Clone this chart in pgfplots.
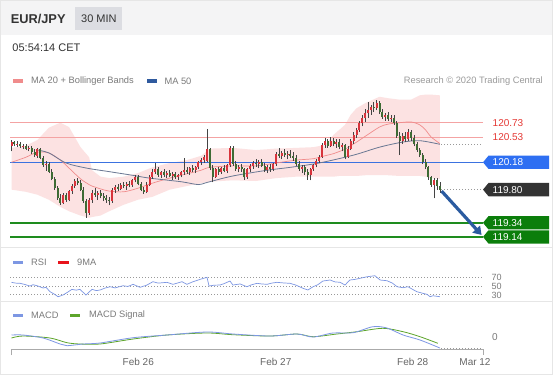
\documentclass[border=0pt]{standalone}
\usepackage{pgfplots}
\pgfplotsset{compat=1.18}
\usepackage{pgfplotstable}
\usepgfplotslibrary{fillbetween}
\usetikzlibrary{arrows.meta}
\usepackage{fontspec}
\setmainfont{Liberation Sans}

\definecolor{hdr}{HTML}{F4F4F5}
\definecolor{minbox}{HTML}{DCDDE2}
\definecolor{txt}{HTML}{333333}
\definecolor{gtxt}{HTML}{7A7A7A}
\definecolor{ltxt}{HTML}{9A9A9A}
\definecolor{xtxt}{HTML}{666666}
\definecolor{band}{HTML}{FCE2E2}
\definecolor{ma20}{HTML}{F08C8C}
\definecolor{ma50}{HTML}{6A7893}
\definecolor{ma50leg}{HTML}{2F5A9E}
\definecolor{lvlred}{HTML}{F4A3A3}
\definecolor{lbred}{HTML}{E53935}
\definecolor{lvlblue}{HTML}{3B72E0}
\definecolor{boxblue}{HTML}{2E6FF2}
\definecolor{boxdark}{HTML}{333333}
\definecolor{lvlgreen}{HTML}{1E8C1E}
\definecolor{boxgreen}{HTML}{0B7E0B}
\definecolor{upc}{HTML}{D8343C}
\definecolor{dnc}{HTML}{3E6B34}
\definecolor{wick}{HTML}{444444}
\definecolor{rsic}{HTML}{7D97E3}
\definecolor{mared}{HTML}{E8141C}
\definecolor{sigc}{HTML}{5DA52B}
\definecolor{arrowc}{HTML}{2B5BA0}
\definecolor{sep}{HTML}{E6E6E6}
\definecolor{axc}{HTML}{AAAAAA}
\definecolor{dotc}{HTML}{999999}

\pgfplotstableread{
i o h l c
0 120.40 120.49 120.33 120.46
1 120.46 120.48 120.40 120.43
2 120.43 120.47 120.39 120.44
3 120.44 120.46 120.38 120.40
4 120.40 120.44 120.36 120.41
5 120.41 120.43 120.35 120.37
6 120.37 120.41 120.33 120.38
7 120.38 120.40 120.30 120.32
8 120.32 120.36 120.26 120.28
9 120.27 120.38 120.24 120.36
10 120.36 120.38 120.22 120.24
11 120.24 120.27 120.12 120.14
12 120.14 120.20 120.06 120.16
13 120.16 120.18 120.03 120.05
14 120.05 120.08 119.93 119.95
15 119.95 119.98 119.80 119.82
16 119.82 119.85 119.66 119.68
17 119.68 119.74 119.59 119.62
18 119.62 119.75 119.60 119.72
19 119.72 119.76 119.63 119.66
20 119.66 119.80 119.64 119.78
21 119.78 119.88 119.74 119.85
22 119.85 119.95 119.82 119.92
23 119.92 119.96 119.86 119.89
24 119.89 119.94 119.78 119.80
25 119.80 119.84 119.62 119.64
26 119.64 119.67 119.41 119.48
27 119.48 119.68 119.45 119.65
28 119.65 119.80 119.62 119.76
29 119.76 119.82 119.70 119.73
30 119.73 119.78 119.66 119.75
31 119.75 119.79 119.68 119.71
32 119.71 119.75 119.64 119.69
33 119.69 119.73 119.62 119.66
34 119.66 119.70 119.58 119.64
35 119.64 119.82 119.62 119.80
36 119.80 119.86 119.76 119.84
37 119.84 119.88 119.78 119.81
38 119.81 119.89 119.79 119.87
39 119.87 119.91 119.82 119.85
40 119.85 119.90 119.80 119.88
41 119.88 119.92 119.83 119.86
42 119.86 119.95 119.84 119.93
43 119.93 120.00 119.90 119.98
44 119.98 120.00 119.86 119.88
45 119.88 119.91 119.78 119.80
46 119.80 119.84 119.74 119.77
47 119.77 119.90 119.75 119.87
48 119.87 120.00 119.85 119.98
49 119.98 120.08 119.95 120.05
50 120.05 120.17 120.02 120.08
51 120.08 120.11 119.98 120.00
52 120.00 120.06 119.96 120.04
53 120.04 120.08 119.98 120.01
54 120.01 120.06 119.96 120.03
55 120.03 120.07 119.97 119.99
56 119.99 120.04 119.94 120.02
57 120.02 120.05 119.95 119.97
58 119.97 120.02 119.94 120.00
59 120.00 120.06 119.97 120.04
60 120.04 120.24 120.01 120.07
61 120.07 120.11 120.02 120.05
62 120.05 120.12 120.01 120.10
63 120.10 120.14 120.04 120.07
64 120.07 120.13 120.03 120.11
65 120.11 120.20 120.08 120.18
66 120.18 120.24 120.14 120.21
67 120.21 120.28 120.17 120.26
68 120.20 120.64 120.18 120.36
69 120.36 120.38 120.07 120.10
70 120.10 120.14 119.90 119.98
71 119.98 120.10 119.96 120.08
72 120.08 120.12 120.01 120.04
73 120.04 120.12 120.02 120.10
74 120.10 120.14 120.04 120.06
75 120.06 120.16 120.03 120.14
76 120.14 120.40 120.12 120.38
77 120.38 120.40 120.13 120.16
78 120.16 120.20 120.06 120.08
79 120.08 120.14 120.04 120.11
80 120.11 120.15 120.05 120.08
81 120.08 120.10 119.94 119.97
82 119.97 120.10 119.95 120.08
83 120.08 120.15 120.05 120.13
84 120.13 120.20 120.09 120.17
85 120.17 120.22 120.12 120.15
86 120.15 120.21 120.10 120.19
87 120.19 120.22 120.11 120.13
88 120.13 120.17 120.04 120.07
89 120.07 120.14 120.03 120.12
90 120.12 120.16 120.05 120.08
91 120.08 120.17 120.06 120.15
92 120.15 120.32 120.13 120.29
93 120.29 120.38 120.24 120.27
94 120.27 120.34 120.22 120.31
95 120.31 120.36 120.25 120.28
96 120.28 120.34 120.22 120.30
97 120.30 120.35 120.24 120.27
98 120.27 120.32 120.20 120.24
99 120.24 120.28 120.13 120.16
100 120.16 120.20 120.06 120.09
101 120.09 120.14 120.03 120.11
102 120.11 120.14 120.01 120.04
103 120.04 120.08 119.94 120.00
104 120.00 120.10 119.93 120.08
105 120.08 120.16 120.06 120.14
106 120.14 120.22 120.11 120.20
107 120.20 120.28 120.17 120.26
108 120.26 120.45 120.24 120.42
109 120.42 120.52 120.38 120.47
110 120.47 120.51 120.38 120.41
111 120.41 120.53 120.39 120.48
112 120.48 120.52 120.40 120.43
113 120.43 120.50 120.38 120.46
114 120.46 120.50 120.36 120.39
115 120.39 120.45 120.33 120.42
116 120.42 120.44 120.22 120.26
117 120.26 120.40 120.24 120.37
118 120.37 120.50 120.35 120.47
119 120.47 120.60 120.44 120.56
120 120.56 120.66 120.52 120.63
121 120.63 120.75 120.60 120.72
122 120.72 120.84 120.68 120.80
123 120.80 120.92 120.74 120.86
124 120.86 121.02 120.80 120.90
125 120.90 120.98 120.84 120.95
126 120.95 121.02 120.88 120.93
127 120.93 121.05 120.90 121.00
128 121.00 121.03 120.85 120.88
129 120.88 120.92 120.78 120.81
130 120.81 120.87 120.76 120.84
131 120.84 120.88 120.75 120.78
132 120.78 120.84 120.74 120.80
133 120.80 120.83 120.70 120.73
134 120.73 120.76 120.52 120.55
135 120.55 120.60 120.28 120.48
136 120.48 120.58 120.44 120.54
137 120.54 120.60 120.46 120.50
138 120.50 120.64 120.47 120.60
139 120.60 120.63 120.48 120.52
140 120.52 120.56 120.40 120.43
141 120.43 120.46 120.32 120.35
142 120.35 120.38 120.25 120.28
143 120.28 120.31 120.16 120.19
144 120.19 120.22 120.08 120.11
145 120.11 120.13 119.94 119.97
146 119.97 119.99 119.84 119.87
147 119.87 119.96 119.68 119.93
148 119.93 119.96 119.80 119.85
149 119.85 119.90 119.76 119.80
}\candles

\pgfplotstableread{
i up ma lo
0 120.38 120.18 119.80
5 120.41 120.25 119.77
9 120.49 120.32 119.73
13 120.66 120.31 119.66
17 120.73 120.21 119.56
20 120.67 120.10 119.50
24 120.39 119.95 119.44
27 120.25 119.87 119.41
28 120.07 119.85 119.42
31 119.98 119.81 119.44
34 119.96 119.78 119.50
39 119.98 119.77 119.59
44 120.03 119.82 119.66
49 120.11 119.89 119.70
55 120.17 119.96 119.80
61 120.21 120.02 119.85
66 120.27 120.07 119.89
69 120.37 120.11 119.91
77 120.38 120.13 119.93
85 120.35 120.13 119.92
92 120.37 120.17 119.96
99 120.38 120.21 119.98
105 120.39 120.23 119.98
109 120.42 120.27 119.98
112 120.56 120.30 119.98
114 120.63 120.33 119.99
116 120.70 120.36 119.99
118 120.84 120.41 119.99
120 120.93 120.46 119.99
123 121.00 120.54 120.00
128 121.09 120.67 120.00
131 121.07 120.71 120.00
135 121.05 120.73 119.99
139 121.05 120.74 119.99
142 121.11 120.70 119.99
144 121.12 120.63 119.98
146 121.12 120.53 119.96
149 121.11 120.44 119.95
}\bands

\pgfplotstableread{
i ma
9 120.35
13 120.31
19 120.17
26 120.10
34 120.05
42 120.00
48 119.96
59 119.91
65 119.87
68 119.90
77 119.99
89 120.07
97 120.11
107 120.17
119 120.28
128 120.39
136 120.46
142 120.48
149 120.43
}\mafifty

\pgfplotstableread{
i v
0 58.9
1.5 57.0
3 56.5
4.5 54.0
6.4 50.0
7.5 53.1
9 50.5
11 45.2
12 47.0
13.4 36.3
15 30.0
16.2 24.2
17.9 28.3
19.5 35.0
21 42.0
22.5 40.0
23.8 42.0
25.9 28.3
28 42.0
29.5 39.0
30.8 40.4
32.5 45.0
34.3 48.3
36 45.5
38.8 50.7
40.5 49.0
42.3 54.1
44.7 46.9
47 52.0
49.2 60.4
51 57.0
54.1 58.9
56.2 54.1
59.3 60.4
61 54.1
63 60.0
65.6 66.1
68 71.0
68.7 50.0
70.5 52.0
72.5 52.4
74 56.0
76 62.0
77 52.4
79.5 55.0
81.9 48.3
83.5 53.0
85.4 56.5
87 55.0
88.9 54.1
90.5 57.0
92.3 58.9
94.5 57.5
96.9 56.5
99 52.0
101.4 44.5
103.1 40.4
104.9 48.3
106.5 53.0
108.3 62.0
110.8 64.5
112.5 60.0
114.3 58.9
116 52.4
117.7 64.5
119.5 66.0
121.2 68.6
123.7 72.4
126.4 74.8
128.2 64.5
130.6 62.8
132.5 57.0
134.1 48.3
136.2 45.9
137.9 48.3
139.5 42.0
141 36.3
143.1 32.4
144.5 30.0
145.6 24.2
146.6 26.6
149 24.2
}\rsi

\pgfplotstableread{
i m
0 0.0085
4 0.0085
11 -0.0065
16.9 -0.0365
19.3 -0.0450
24.9 -0.0365
30.8 -0.0315
42.3 -0.0050
54.1 0.0085
68 0.0235
77 0.0135
89.9 0.0035
99.3 0.0135
104.9 -0.0015
111.8 0.0185
118.8 0.0200
125.7 0.0500
130.6 0.0435
136.2 0.0085
142.1 -0.0165
149 -0.0565
}\macd

\pgfplotstableread{
i s
0 -0.0065
4 0.0035
13.4 -0.0065
19.3 -0.0300
23.8 -0.0365
30.8 -0.0365
42.3 -0.0115
54.1 0.0085
68 0.0185
77 0.0100
89.9 0.0035
99.3 0.0135
104.9 0.0000
113.2 0.0135
120.2 0.0250
129.2 0.0420
136.2 0.0250
142.1 0.0000
148.3 -0.0330
}\signal

\pgfplotsset{panel/.style={scale only axis, width=553pt, xmin=-4, xmax=188.348,
  hide axis, clip=false, anchor=south west}}

\newcommand{\lbox}[3]{%
\begin{scope}[yshift=-#1pt]
\fill[#2] (483pt,0pt) -- (488.5pt,6.65pt) -- (549pt,6.65pt) -- (549pt,-6.65pt) -- (488.5pt,-6.65pt) -- cycle;
\node[anchor=west, inner sep=0pt, text=white, font=\fontsize{10}{12}\selectfont] at (492.5pt,0pt) {#3};
\end{scope}}

\begin{document}
\begin{tikzpicture}
\fill[white] (0pt,0pt) rectangle (553pt,-375pt);
% header
\fill[hdr] (0pt,0pt) rectangle (553pt,-35pt);
\fill[minbox] (75pt,-7pt) rectangle (122pt,-30pt);
\node[anchor=west, inner sep=0pt, text=txt, font=\fontsize{12.8}{14}\selectfont\bfseries] at (10.6pt,-18.7pt) {EUR/JPY};
\node[anchor=west, inner sep=0pt, text=txt, font=\fontsize{11}{13}\selectfont] at (81pt,-18.7pt) {30 MIN};
\node[anchor=west, inner sep=0pt, text=txt, font=\fontsize{11}{13}\selectfont] at (12.3pt,-47.6pt) {05:54:14 CET};
% legends
\fill[ma20] (12.7pt,-79.3pt) rectangle (23.3pt,-82.7pt);
\node[anchor=west, inner sep=0pt, text=gtxt, font=\fontsize{9.3}{11}\selectfont] at (31pt,-81pt) {MA 20 + Bollinger Bands};
\fill[ma50leg] (146.7pt,-79.3pt) rectangle (157.3pt,-82.7pt);
\node[anchor=west, inner sep=0pt, text=gtxt, font=\fontsize{9.3}{11}\selectfont] at (164.3pt,-81pt) {MA 50};
\node[anchor=east, inner sep=0pt, text=ltxt, font=\fontsize{9.3}{11}\selectfont] at (543pt,-81pt) {Research © 2020 Trading Central};
% separators
\draw[sep, line width=0.8pt] (0pt,-247pt) -- (553pt,-247pt);
\draw[sep, line width=0.8pt] (0pt,-301pt) -- (553pt,-301pt);

% ===== main price panel =====
\begin{axis}[panel, at={(0pt,-245pt)}, height=155pt, ymin=119.031, ymax=121.184]
\addplot[name path=bu, draw=none, forget plot] table[x=i, y=up] {\bands};
\addplot[name path=bl, draw=none, forget plot] table[x=i, y=lo] {\bands};
\addplot[band, draw=none] fill between[of=bu and bl, on layer=main];
\addplot[lvlred, line width=0.8pt] coordinates {(-0.52,120.73) (164,120.73)};
\addplot[lvlred, line width=0.8pt] coordinates {(-0.52,120.53) (164,120.53)};
\addplot[lvlblue, line width=1pt] coordinates {(-0.52,120.18) (164,120.18)};
\addplot[lvlgreen, line width=2pt] coordinates {(-0.52,119.34) (164,119.34)};
\addplot[lvlgreen, line width=2pt] coordinates {(-0.52,119.14) (164,119.14)};
\addplot[dotc, line width=0.7pt, dash pattern=on 1pt off 2pt] coordinates {(149.5,120.43) (164,120.43)};
\addplot[dotc, line width=0.7pt, dash pattern=on 1pt off 2pt] coordinates {(149.5,119.80) (164,119.80)};
\addplot[ma20, line width=0.7pt, smooth] table[x=i, y=ma] {\bands};
\addplot[ma50, line width=0.8pt, smooth] table[x=i, y=ma] {\mafifty};
% wicks
\addplot[draw=none, mark=none, forget plot, error bars/.cd, y dir=plus, y explicit, error mark=none,
  error bar style={draw=wick, line width=0.6pt}]
  table[x=i, y=l, y error plus expr=\thisrow{h}-\thisrow{l}] {\candles};
% up bodies
\addplot[draw=none, mark=none, forget plot, restrict y to domain=100:200,
  error bars/.cd, y dir=plus, y explicit, error mark=none,
  error bar style={draw=upc, line width=2pt}]
  table[x=i, y expr={ifthenelse(\thisrow{c}>=\thisrow{o},\thisrow{o},-1000)},
        y error plus expr=\thisrow{c}-\thisrow{o}] {\candles};
% down bodies
\addplot[draw=none, mark=none, forget plot, restrict y to domain=100:200,
  error bars/.cd, y dir=plus, y explicit, error mark=none,
  error bar style={draw=dnc, line width=2pt}]
  table[x=i, y expr={ifthenelse(\thisrow{c}<\thisrow{o},\thisrow{c},-1000)},
        y error plus expr=\thisrow{o}-\thisrow{c}] {\candles};
\draw[arrowc, line width=3.2pt, -{Triangle[width=10pt,length=8pt]}] (axis cs:149.6,119.78) -- (axis cs:163.5,119.17);
\end{axis}

% level labels
\node[anchor=west, inner sep=0pt, text=lbred, font=\fontsize{10}{12}\selectfont] at (492.5pt,-122.7pt) {120.73};
\node[anchor=west, inner sep=0pt, text=lbred, font=\fontsize{10}{12}\selectfont] at (492.5pt,-137.1pt) {120.53};
\lbox{162.3}{boxblue}{120.18}
\lbox{189.6}{boxdark}{119.80}
\lbox{222.8}{boxgreen}{119.34}
\lbox{236.9}{boxgreen}{119.14}

% ===== RSI panel =====
\fill[rsic] (12.7pt,-261pt) rectangle (23pt,-264pt);
\node[anchor=west, inner sep=0pt, text=gtxt, font=\fontsize{9.3}{11}\selectfont] at (31pt,-262.5pt) {RSI};
\fill[mared] (58pt,-261pt) rectangle (69pt,-264pt);
\node[anchor=west, inner sep=0pt, text=gtxt, font=\fontsize{9.3}{11}\selectfont] at (77pt,-262.5pt) {9MA};
\begin{axis}[panel, at={(0pt,-300pt)}, height=30pt, ymin=16.3, ymax=88.6]
\addplot[dotc, line width=0.6pt, dash pattern=on 1pt off 2pt] coordinates {(-0.52,70) (164,70)};
\addplot[dotc, line width=0.6pt, dash pattern=on 1pt off 2pt] coordinates {(-0.52,50) (164,50)};
\addplot[dotc, line width=0.6pt, dash pattern=on 1pt off 2pt] coordinates {(-0.52,30) (164,30)};
\addplot[rsic, line width=0.7pt] table[x=i, y=v] {\rsi};
\end{axis}
\node[inner sep=0pt, text=gtxt, font=\fontsize{9}{10}\selectfont] at (496.5pt,-295pt) {30};
\node[inner sep=0pt, text=gtxt, font=\fontsize{9}{10}\selectfont] at (496.5pt,-286.5pt) {50};
\node[inner sep=0pt, text=gtxt, font=\fontsize{9}{10}\selectfont] at (496.5pt,-277.7pt) {70};

% ===== MACD panel =====
\fill[rsic] (12.7pt,-314pt) rectangle (23pt,-317pt);
\node[anchor=west, inner sep=0pt, text=gtxt, font=\fontsize{9.3}{11}\selectfont] at (31pt,-315.5pt) {MACD};
\fill[sigc] (70pt,-314pt) rectangle (80pt,-317pt);
\node[anchor=west, inner sep=0pt, text=gtxt, font=\fontsize{9.3}{11}\selectfont] at (89pt,-315.5pt) {MACD Signal};
\begin{axis}[panel, at={(0pt,-360pt)}, height=40pt, ymin=-0.1165, ymax=0.0835]
\addplot[dotc, line width=0.6pt, dash pattern=on 1pt off 2pt] coordinates {(149.5,-0.0565) (164,-0.0565)};
\addplot[sigc, line width=0.8pt, smooth] table[x=i, y=s] {\signal};
\addplot[rsic, line width=0.8pt, smooth] table[x=i, y=m] {\macd};
\end{axis}
\node[text=gtxt, inner sep=0pt, font=\fontsize{10}{12}\selectfont] at (495pt,-336.7pt) {0};
\draw[axc, line width=0.8pt] (11pt,-355pt) -- (11pt,-349pt) -- (483pt,-349pt) -- (483pt,-355pt);
\node[text=xtxt, inner sep=0pt, font=\fontsize{10}{12}\selectfont] at (138.3pt,-362pt) {Feb 26};
\node[text=xtxt, inner sep=0pt, font=\fontsize{10}{12}\selectfont] at (275.8pt,-362pt) {Feb 27};
\node[text=xtxt, inner sep=0pt, font=\fontsize{10}{12}\selectfont] at (412.7pt,-362pt) {Feb 28};
\node[text=xtxt, inner sep=0pt, font=\fontsize{10}{12}\selectfont] at (475pt,-362pt) {Mar 12};
\draw[sep, line width=0.8pt] (0.4pt,-0.4pt) rectangle (552.6pt,-374.6pt);
\pgfresetboundingbox
\useasboundingbox (0pt,0pt) rectangle (553pt,-375pt);
\end{tikzpicture}
\end{document}
